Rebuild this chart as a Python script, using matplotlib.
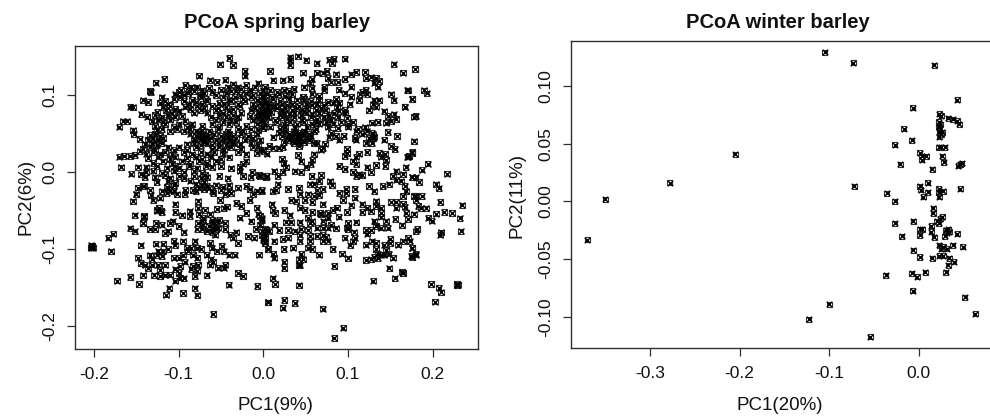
import matplotlib
matplotlib.use("Agg")
import matplotlib.pyplot as plt
import numpy as np

plt.rcParams['font.family'] = ['Liberation Sans', 'DejaVu Sans']

# Spring barley, dense upper-left body (PC1, PC2)
spring_body_left = [(-0.063,0.119),(-0.055,0.117),(-0.045,0.120),
(-0.092,0.113),(-0.085,0.110),(-0.036,0.114),(-0.030,0.110),(-0.020,0.113),(-0.006,0.115),(0.002,0.111),
(-0.097,0.107),(-0.088,0.105),(-0.078,0.110),(-0.072,0.106),(-0.064,0.109),(-0.050,0.107),(-0.042,0.110),(-0.032,0.105),(-0.026,0.108),(-0.016,0.106),(-0.010,0.110),(0.000,0.106),
(-0.104,0.101),(-0.100,0.104),(-0.094,0.100),(-0.089,0.102),(-0.082,0.105),(-0.075,0.100),(-0.070,0.103),(-0.060,0.104),(-0.056,0.100),(-0.044,0.102),(-0.038,0.105),(-0.028,0.100),(-0.020,0.103),(-0.012,0.100),(-0.004,0.103),
(-0.105,0.095),(-0.098,0.097),(-0.084,0.094),(-0.074,0.098),(-0.068,0.095),(-0.048,0.097),(-0.040,0.094),(-0.034,0.098),(-0.024,0.095),(-0.014,0.097),(-0.008,0.094),(0.000,0.098),
(-0.122,0.090),(-0.112,0.088),(-0.094,0.092),(-0.088,0.088),(-0.080,0.091),(-0.072,0.089),(-0.066,0.092),(-0.052,0.090),(-0.046,0.088),(-0.038,0.092),(-0.030,0.089),(-0.022,0.092),(-0.012,0.088),(-0.004,0.091),
(-0.118,0.084),(-0.110,0.086),(-0.104,0.082),(-0.092,0.085),(-0.086,0.082),(-0.078,0.086),(-0.070,0.083),(-0.060,0.086),(-0.054,0.083),(-0.044,0.085),(-0.036,0.082),(-0.028,0.086),(-0.010,0.083),(-0.002,0.086),
(-0.125,0.078),(-0.115,0.080),(-0.108,0.077),(-0.100,0.079),(-0.082,0.077),(-0.074,0.080),(-0.066,0.077),(-0.056,0.080),(-0.048,0.077),(-0.040,0.079),(-0.026,0.077),(-0.014,0.080),(-0.006,0.078),
(-0.137,0.072),(-0.128,0.074),(-0.120,0.071),(-0.112,0.074),(-0.104,0.071),(-0.096,0.073),(-0.062,0.071),(-0.052,0.074),(-0.044,0.071),(-0.036,0.074),(-0.030,0.071),(-0.016,0.073),(-0.008,0.071),(0.000,0.074),
(-0.132,0.066),(-0.124,0.068),(-0.118,0.065),(-0.110,0.068),(-0.092,0.066),(-0.056,0.068),(-0.048,0.065),(-0.038,0.067),(-0.032,0.065),(-0.012,0.068),(-0.004,0.065),
(-0.128,0.060),(-0.116,0.062),(-0.106,0.059),(-0.100,0.062),(-0.090,0.059),(-0.084,0.062),(-0.072,0.060),(-0.060,0.062),(-0.052,0.059),(-0.040,0.062),(-0.020,0.060),(-0.008,0.062),(0.000,0.059),
(-0.126,0.054),(-0.120,0.056),(-0.110,0.053),(-0.102,0.056),(-0.094,0.053),(-0.086,0.056),(-0.080,0.053),(-0.072,0.055),(-0.064,0.053),(-0.054,0.056),(-0.042,0.053),(-0.030,0.056),(-0.024,0.053),(-0.014,0.056),(-0.006,0.054),
(-0.134,0.048),(-0.128,0.050),(-0.122,0.047),(-0.086,0.050),(-0.080,0.047),(-0.074,0.050),(-0.068,0.047),(-0.058,0.050),(-0.050,0.047),(-0.044,0.050),(-0.036,0.047),(-0.026,0.049),(-0.018,0.047),(-0.008,0.050),
(-0.136,0.042),(-0.130,0.044),(-0.124,0.041),(-0.118,0.044),(-0.082,0.042),(-0.076,0.044),(-0.070,0.041),(-0.062,0.044),(-0.056,0.041),(-0.048,0.044),(-0.040,0.041),(-0.032,0.044),(-0.022,0.042),(-0.012,0.044),(-0.004,0.041),
(-0.075,0.052),(-0.071,0.048),(-0.067,0.045),(-0.073,0.043),(-0.069,0.039),(-0.042,0.046),(-0.038,0.043),(-0.046,0.041),(-0.040,0.050),(-0.036,0.040),
(-0.140,0.036),(-0.132,0.038),(-0.126,0.035),(-0.120,0.038),(-0.090,0.036),(-0.082,0.038),(-0.074,0.035),(-0.066,0.038),(-0.060,0.035),(-0.052,0.038),(-0.044,0.035),(-0.036,0.038),(-0.028,0.036),(-0.014,0.038),(-0.006,0.035),
(-0.142,0.030),(-0.134,0.032),(-0.128,0.029),(-0.112,0.032),(-0.106,0.029),(-0.100,0.032),(-0.090,0.029),(-0.080,0.032),(-0.060,0.030),(-0.052,0.032),(-0.046,0.029),(-0.038,0.032),(-0.026,0.030),(-0.012,0.032),(0.000,0.029),
(-0.138,0.024),(-0.130,0.026),(-0.122,0.023),(-0.116,0.026),(-0.108,0.023),(-0.094,0.026),(-0.084,0.023),(-0.074,0.026),(-0.066,0.023),(-0.058,0.026),(-0.048,0.024),(-0.030,0.026),(-0.020,0.023),(-0.008,0.025),
(-0.136,0.018),(-0.124,0.020),(-0.110,0.017),(-0.104,0.020),(-0.090,0.018),(-0.080,0.020),(-0.072,0.017),(-0.062,0.020),(-0.050,0.017),(-0.040,0.019),
(-0.130,0.012),(-0.118,0.014),(-0.108,0.011),(-0.096,0.014),(-0.086,0.011),(-0.076,0.014),(-0.066,0.012),(-0.056,0.014),(-0.024,0.011),(-0.020,0.014),
(-0.138,0.006),(-0.126,0.008),(-0.114,0.005),(-0.104,0.008),(-0.100,0.005),(-0.088,0.008),(-0.078,0.005),(-0.068,0.008),(-0.060,0.006),(-0.050,0.008),(-0.038,0.005),(-0.028,0.007),
(-0.138,0.000),(-0.130,0.002),(-0.120,-0.001),(-0.106,0.002),(-0.094,0.000),(-0.082,0.002),(-0.072,-0.001),(-0.028,0.002),(-0.013,0.000),
(-0.128,-0.007),(-0.116,-0.004),(-0.110,-0.008),(-0.100,-0.005),(-0.094,-0.008),(-0.082,-0.005),(-0.074,-0.008),(-0.069,-0.004),(-0.066,-0.007),(-0.052,-0.005),(-0.042,-0.008),(-0.024,-0.005),(-0.015,-0.007),(-0.005,-0.004),(0.003,-0.007),
(-0.126,-0.013),(-0.112,-0.011),(-0.104,-0.014),(-0.086,-0.011),(-0.070,-0.013),
(-0.114,-0.019),(-0.106,-0.017),(-0.076,-0.020),(-0.072,-0.017),(-0.064,-0.020),(-0.056,-0.017),(-0.048,-0.019),(-0.040,-0.017),(-0.030,-0.020),(-0.020,-0.018),
(-0.134,-0.023),(-0.120,-0.025),(-0.112,-0.022),(-0.106,-0.025),(-0.092,-0.023),(-0.080,-0.025),(-0.070,-0.022),(-0.060,-0.025),(-0.050,-0.023),(-0.040,-0.025),(-0.016,-0.022),(-0.008,-0.025),(-0.002,-0.023)]

# Spring barley, dense upper-right body
spring_body_right = [(0.000,0.105),(0.008,0.107),(0.016,0.104),(0.024,0.107),(0.030,0.105),(0.036,0.108),
(-0.002,0.099),(0.004,0.101),(0.010,0.098),(0.018,0.101),(0.026,0.099),(0.034,0.101),(0.047,0.098),(0.058,0.101),(0.066,0.099),
(0.002,0.093),(0.012,0.095),(0.020,0.092),(0.030,0.095),(0.040,0.093),(0.048,0.095),(0.056,0.092),(0.066,0.094),
(-0.002,0.087),(0.006,0.089),(0.014,0.086),(0.022,0.089),(0.028,0.087),(0.034,0.089),(0.042,0.086),(0.050,0.089),(0.058,0.087),(0.064,0.089),(0.072,0.087),
(0.004,0.081),(0.016,0.083),(0.022,0.080),(0.026,0.083),(0.034,0.081),(0.040,0.083),(0.046,0.080),(0.052,0.083),(0.062,0.081),(0.068,0.083),(0.074,0.080),
(-0.002,0.075),(0.006,0.077),(0.020,0.074),(0.024,0.077),(0.030,0.075),(0.036,0.077),(0.044,0.074),(0.050,0.077),(0.058,0.075),(0.066,0.077),(0.078,0.074),(0.084,0.077),
(-0.001,0.069),(0.006,0.071),(0.014,0.068),(0.022,0.071),(0.028,0.069),(0.036,0.071),(0.046,0.068),(0.056,0.071),(0.064,0.069),(0.072,0.071),(0.080,0.068),(0.088,0.071),
(0.002,0.063),(0.016,0.065),(0.024,0.062),(0.032,0.065),(0.040,0.063),(0.048,0.065),(0.058,0.062),(0.062,0.065),(0.066,0.063),(0.074,0.065),(0.082,0.062),(0.092,0.065),(0.100,0.063),(0.106,0.065),
(0.000,0.057),(0.008,0.059),(0.020,0.056),(0.026,0.059),(0.038,0.057),(0.052,0.059),(0.062,0.056),(0.076,0.059),(0.088,0.057),(0.100,0.059),(0.112,0.056),(0.120,0.058),
(0.018,0.051),(0.026,0.053),(0.030,0.050),(0.036,0.053),(0.042,0.051),(0.048,0.053),(0.054,0.050),(0.060,0.053),(0.080,0.051),(0.110,0.053),(0.116,0.050),(0.122,0.053),(0.128,0.051),
(0.012,0.045),(0.022,0.047),(0.028,0.044),(0.034,0.047),(0.040,0.045),(0.046,0.047),(0.052,0.044),(0.056,0.047),(0.078,0.045),(0.086,0.047),(0.125,0.044),(0.131,0.046),
(0.024,0.039),(0.030,0.041),(0.036,0.038),(0.042,0.041),(0.048,0.039),(0.054,0.041),(0.060,0.038),
(0.037,0.050),(0.041,0.047),(0.045,0.044),(0.033,0.045),(0.039,0.042),(0.043,0.037),(0.047,0.051),(0.035,0.040),
(0.003,0.090),(0.006,0.085),(0.001,0.081),(0.009,0.078),(0.004,0.072),(0.012,0.086),(-0.004,0.078),(-0.002,0.069)]

# Spring barley, upper-left individually readable points
spring_upper_left = [(-0.040,0.148),(-0.051,0.140),(-0.036,0.139),(-0.022,0.131),(-0.022,0.125),(-0.076,0.125),(-0.117,0.121),(-0.127,0.116),(-0.134,0.105),(-0.133,0.104),(-0.120,0.097),(-0.142,0.093),(-0.136,0.091),(-0.116,0.092),(-0.157,0.085),(-0.154,0.084),(-0.144,0.075),(-0.161,0.066),(-0.166,0.066),(-0.170,0.059),(-0.154,0.054),(-0.153,0.049),(-0.146,0.043),(-0.170,0.020),(-0.165,0.021),(-0.157,0.021),(-0.152,0.022),(-0.146,0.027),(-0.168,0.006),(-0.156,-0.002),(-0.148,0.006),(-0.145,-0.003),(-0.140,-0.007),(-0.141,-0.018),(-0.148,-0.020),(-0.150,-0.029)]

# Spring barley, upper-right individually readable points
spring_upper_right = [(0.032,0.149),(0.032,0.145),(0.041,0.150),(0.032,0.139),(0.051,0.145),(0.063,0.141),(0.078,0.146),(0.083,0.147),(0.081,0.141),(0.096,0.147),(0.154,0.140),(0.165,0.129),(0.179,0.134),(0.008,0.131),(0.047,0.129),(0.063,0.129),(0.070,0.128),(0.075,0.131),(0.086,0.127),(0.104,0.127),(0.110,0.130),(0.120,0.130),(0.121,0.122),(0.127,0.123),(0.133,0.122),(0.137,0.118),(0.131,0.116),(0.135,0.111),(0.012,0.119),(0.023,0.119),(0.032,0.121),(0.057,0.121),(0.055,0.116),(0.076,0.122),(0.080,0.117),(0.088,0.117),(0.096,0.121),(0.104,0.111),(0.057,0.109),(0.048,0.110),(0.072,0.111),(0.072,0.106),(0.089,0.107),(0.171,0.106),(0.176,0.095),(0.167,0.085),(0.180,0.073),(0.151,0.101),(0.154,0.093),(0.121,0.107),(0.117,0.104),(0.123,0.101),(0.114,0.101),(0.113,0.093),(0.096,0.102),(0.104,0.098),(0.086,0.095),(0.076,0.091),(0.082,0.090),(0.090,0.090),(0.131,0.093),(0.137,0.093),(0.129,0.088),(0.133,0.085),(0.125,0.080),(0.143,0.079),(0.147,0.073),(0.154,0.075),(0.157,0.069),(0.151,0.066),(0.145,0.064),(0.135,0.065),(0.128,0.064),(0.090,0.079),(0.096,0.081),(0.102,0.088),(0.087,0.085),(0.099,0.070),(0.097,0.077),
 (0.190,0.106),(0.193,0.102),(0.170,0.106),(0.176,0.095),(0.167,0.085),(0.178,0.072),
 (0.090,0.042),(0.095,0.047),(0.108,0.044),(0.109,0.042),(0.121,0.038),(0.130,0.049),(0.130,0.044),(0.128,0.038),(0.143,0.042),(0.147,0.052),(0.158,0.047),(0.178,0.040),(0.042,0.040),(0.042,0.034),(0.063,0.038),(0.073,0.037),(0.070,0.031),(0.068,0.029),(0.151,0.034),(0.155,0.030),(0.099,0.030),(0.099,0.025),(0.096,0.021),(0.113,0.024),(0.123,0.026),(0.110,0.020),(0.106,0.014),(0.110,0.010),(0.137,0.025),(0.144,0.024),(0.139,0.020),(0.145,0.016),(0.144,0.008),(0.176,0.026),(0.172,0.021),(0.170,0.020),(0.022,0.017),(0.024,0.012),(0.041,0.022),(0.045,0.014),(0.060,0.023),(0.058,0.016),(0.056,0.010),(0.051,0.006),(0.045,0.000),(0.037,0.001),(0.027,0.006),(0.023,0.000),(0.013,0.001),(0.017,-0.005),(0.004,-0.005),(-0.004,-0.005),(0.007,0.034),(0.012,0.031),(0.019,0.031),(0.023,0.032),(0.000,0.027),(0.004,0.024),(-0.004,0.029),(0.090,0.008),(0.096,0.004),(0.133,0.009),(0.123,0.006),(0.127,0.000),(0.113,-0.003),(0.110,-0.005),(0.106,0.000),(0.117,-0.004),(0.168,0.006),(0.157,0.001),(0.165,-0.003),(0.153,-0.005),(0.163,-0.012),(0.157,-0.010),(0.149,-0.016),(0.141,-0.018),(0.131,-0.025),(0.125,-0.018),(0.180,-0.007),(0.176,-0.007),(0.167,-0.018),(0.169,-0.025),(0.165,-0.031),(0.057,-0.005),(0.068,-0.004),(0.066,-0.012),(0.055,-0.016),(0.060,-0.016),(0.079,-0.012),(0.081,-0.017),(0.070,-0.022),(0.064,-0.023),(0.090,-0.027),(0.098,-0.022),(0.108,-0.022),(0.098,-0.027),(0.029,-0.022),(0.042,-0.020),(-0.002,-0.025),(0.011,-0.025),(0.017,-0.016),(0.015,-0.023),(0.043,-0.029),(0.053,-0.029),(0.060,-0.031),(0.066,-0.030),
 (0.217,-0.002),(0.235,-0.043),(0.209,-0.039),(0.204,-0.016),(0.207,-0.021),(0.194,0.011),(0.187,0.003),(0.184,-0.013),(0.176,-0.007),(0.180,-0.031),(0.187,-0.031),(0.176,0.025),(0.171,0.020)]

# Spring barley, lower-right points
spring_lower_right = [(0.033,-0.036),(0.039,-0.038),(0.049,-0.036),(0.058,-0.039),(0.070,-0.042),(0.094,-0.036),(0.108,-0.033),(0.104,-0.043),(0.117,-0.042),(0.123,-0.046),(0.133,-0.038),(0.133,-0.044),(0.139,-0.046),(0.151,-0.039),(0.157,-0.039),(0.165,-0.041),(0.157,-0.046),(0.167,-0.045),(0.178,-0.031),(0.180,-0.036),(0.183,-0.044),(0.010,-0.042),(0.011,-0.049),(0.014,-0.053),(0.025,-0.049),(0.031,-0.056),(0.043,-0.046),(0.049,-0.049),(0.058,-0.052),(0.067,-0.053),(0.076,-0.053),(0.087,-0.046),(0.082,-0.049),(0.099,-0.052),(0.089,-0.058),(0.117,-0.052),(0.127,-0.051),(0.139,-0.053),(0.139,-0.058),(0.145,-0.064),(0.156,-0.061),(0.169,-0.053),(0.178,-0.055),(0.171,-0.061),(0.164,-0.069),(-0.004,-0.057),(-0.002,-0.062),(0.027,-0.065),(0.033,-0.065),(0.043,-0.065),(0.053,-0.059),(0.058,-0.064),(0.068,-0.055),(0.076,-0.059),(0.071,-0.064),(0.080,-0.068),(0.100,-0.066),(0.110,-0.065),(0.131,-0.064),(0.099,-0.072),(0.013,-0.068),(0.004,-0.075),(-0.002,-0.077),(0.007,-0.077),(0.019,-0.075),(0.029,-0.075),(0.037,-0.077),(0.045,-0.074),(0.055,-0.066),(0.053,-0.075),(0.064,-0.072),(0.070,-0.072),(0.076,-0.072),(0.086,-0.073),(0.100,-0.074),(0.107,-0.078),(0.121,-0.075),(0.127,-0.075),(0.133,-0.070),(0.139,-0.072),(0.147,-0.072),(0.123,-0.080),(0.180,-0.077),(0.002,-0.085),(0.002,-0.090),(0.013,-0.090),(0.023,-0.087),(0.029,-0.085),(0.043,-0.081),(0.043,-0.090),(0.055,-0.083),(0.055,-0.090),(0.064,-0.083),(0.070,-0.081),(0.074,-0.084),(0.076,-0.090),(0.070,-0.090),(0.096,-0.085),(0.108,-0.085),(0.106,-0.090),(0.121,-0.094),(0.128,-0.090),(0.133,-0.092),(0.150,-0.087),(0.150,-0.092),(0.143,-0.094),(0.159,-0.094),(0.165,-0.090),(0.171,-0.085),(0.173,-0.090),(0.176,-0.098),(0.180,-0.107),(0.176,-0.110),(0.006,-0.100),(0.012,-0.106),(0.013,-0.111),(0.024,-0.100),(0.035,-0.098),(0.045,-0.106),(0.042,-0.113),(0.047,-0.113),(0.043,-0.120),(0.053,-0.098),(0.058,-0.100),(0.066,-0.107),(0.082,-0.100),(0.093,-0.106),(0.103,-0.095),(0.100,-0.112),(0.133,-0.100),(0.135,-0.106),(0.131,-0.110),(0.139,-0.107),(0.145,-0.101),(0.143,-0.107),(0.148,-0.106),(0.153,-0.111),(0.121,-0.114),(0.127,-0.113),(0.135,-0.112),(0.025,-0.116),(0.025,-0.125),(0.042,-0.121),(0.084,-0.122),(0.149,-0.125),(0.164,-0.129),(0.165,-0.131),(0.155,-0.138),(0.130,-0.141),(0.011,-0.138),(0.014,-0.145),(0.042,-0.147),(0.006,-0.169),(0.025,-0.166),(0.037,-0.170),(0.023,-0.176),(0.070,-0.177),(0.0945,-0.202),(0.084,-0.215),(0.198,-0.145),(0.207,-0.150),(0.210,-0.156),(0.203,-0.168),(0.229,-0.145),(0.229,-0.147),(0.230,-0.146),(0.233,-0.077),(0.232,-0.060),(0.223,-0.053),(0.210,-0.078),(0.209,-0.081),(0.214,-0.052),(0.204,-0.054),(0.199,-0.063),(0.195,-0.059),(0.192,-0.047),(0.186,-0.047),(0.182,-0.074),(0.180,-0.106),(0.176,-0.098),(0.175,-0.109)]

# Spring barley, lower-left points
spring_lower_left = [(-0.203,-0.097),(-0.202,-0.096),(-0.204,-0.098),(-0.201,-0.098),(-0.203,-0.095),(-0.177,-0.080),(-0.183,-0.085),(-0.180,-0.103),(-0.173,-0.141),(-0.157,-0.136),(-0.147,-0.145),(-0.152,-0.056),(-0.141,-0.058),(-0.157,-0.073),(-0.152,-0.077),(-0.145,-0.095),(-0.142,-0.066),(-0.134,-0.074),(-0.126,-0.049),(-0.121,-0.050),(-0.154,-0.038),(-0.150,-0.029),(-0.142,-0.018),(-0.133,-0.030),(-0.130,-0.036),(-0.122,-0.033),(-0.114,-0.027),(-0.110,-0.023),(-0.102,-0.029),(-0.093,-0.029),(-0.083,-0.023),(-0.079,-0.016),(-0.067,-0.018),(-0.059,-0.027),(-0.051,-0.036),(-0.045,-0.029),(-0.038,-0.027),(-0.032,-0.040),(-0.043,-0.045),(-0.055,-0.048),(-0.047,-0.047),(-0.026,-0.044),(-0.020,-0.053),(-0.016,-0.036),(-0.012,-0.029),(-0.008,-0.046),(-0.006,-0.055),(-0.002,-0.060),(-0.028,-0.059),(-0.014,-0.064),(-0.004,-0.068),(-0.009,-0.074),(0.002,-0.074),(-0.104,-0.042),(-0.104,-0.052),(-0.123,-0.046),(-0.120,-0.052),(-0.126,-0.050),(-0.141,-0.057),(-0.142,-0.066),(-0.127,-0.066),(-0.120,-0.068),(-0.110,-0.066),(-0.107,-0.064),(-0.112,-0.077),(-0.128,-0.074),(-0.116,-0.079),(-0.100,-0.070),(-0.094,-0.078),(-0.087,-0.051),(-0.096,-0.056),(-0.087,-0.057),(-0.077,-0.038),(-0.077,-0.046),(-0.069,-0.049),(-0.076,-0.055),(-0.071,-0.059),(-0.063,-0.055),(-0.077,-0.066),(-0.078,-0.074),(-0.071,-0.068),(-0.067,-0.077),(-0.061,-0.066),(-0.055,-0.064),(-0.059,-0.072),(-0.053,-0.072),(-0.057,-0.081),(-0.045,-0.066),(-0.045,-0.074),(-0.039,-0.081),(-0.032,-0.078),(-0.036,-0.085),(-0.030,-0.092),(-0.018,-0.083),(-0.011,-0.085),(0.000,-0.085),(0.002,-0.092),(0.005,-0.100),(-0.005,-0.107),(-0.063,-0.092),(-0.081,-0.090),(-0.061,-0.098),(-0.049,-0.096),(-0.047,-0.103),(-0.055,-0.103),(-0.040,-0.107),(-0.034,-0.107),(-0.127,-0.093),(-0.118,-0.093),(-0.106,-0.089),(-0.104,-0.095),(-0.095,-0.090),(-0.090,-0.098),(-0.085,-0.098),(-0.078,-0.098),(-0.073,-0.100),(-0.067,-0.107),(-0.095,-0.107),(-0.089,-0.103),(-0.083,-0.107),(-0.078,-0.111),(-0.093,-0.116),(-0.100,-0.111),(-0.106,-0.111),(-0.112,-0.100),(-0.118,-0.103),(-0.124,-0.103),(-0.126,-0.108),(-0.120,-0.109),(-0.134,-0.108),(-0.132,-0.113),(-0.148,-0.111),(-0.145,-0.118),(-0.140,-0.120),(-0.136,-0.125),(-0.132,-0.120),(-0.124,-0.120),(-0.116,-0.120),(-0.122,-0.127),(-0.122,-0.135),(-0.116,-0.133),(-0.110,-0.133),(-0.104,-0.126),(-0.098,-0.122),(-0.100,-0.131),(-0.098,-0.137),(-0.104,-0.141),(-0.094,-0.138),(-0.083,-0.122),(-0.077,-0.120),(-0.085,-0.126),(-0.078,-0.128),(-0.081,-0.135),(-0.129,-0.134),(-0.142,-0.134),(-0.062,-0.113),(-0.059,-0.116),(-0.063,-0.120),(-0.054,-0.124),(-0.047,-0.124),(-0.045,-0.120),(-0.067,-0.134),(-0.030,-0.131),(-0.024,-0.135),(-0.041,-0.146),(-0.007,-0.148),(0.005,-0.169),(-0.059,-0.184),(-0.111,-0.151),(-0.115,-0.159),(-0.095,-0.157),(-0.081,-0.151),(-0.078,-0.160),(-0.060,-0.062),(-0.056,-0.068),(-0.052,-0.062),(-0.064,-0.070),(-0.060,-0.078),(-0.056,-0.074),(-0.072,-0.062),(-0.072,-0.074),(-0.002,-0.082),(0.000,-0.088),(0.002,-0.080)]

# Winter barley (PC1, PC2)
winter_isolated = [(-0.350,0.002),(-0.278,0.016),(-0.205,0.041),(-0.370,-0.033),(-0.105,0.129),(-0.073,0.120),(0.017,0.118),(0.043,0.088),(-0.007,0.081),(-0.017,0.063),(-0.008,0.053),(-0.027,0.049),(-0.021,0.032),(0.015,0.028),(-0.072,0.013),(-0.036,0.007),(-0.027,0.000),(0.016,-0.006),(-0.027,-0.019),(-0.006,-0.017),(-0.019,-0.030),(0.043,-0.028),(0.049,-0.039),(-0.037,-0.064),(-0.008,-0.062),(-0.002,-0.065),(0.007,-0.061),(-0.007,-0.077),(0.051,-0.083),(0.063,-0.097),(-0.100,-0.089),(-0.123,-0.102),(-0.054,-0.117)]
winter_cluster = [(0.023,0.076),(0.025,0.074),(0.033,0.072),(0.038,0.071),(0.043,0.070),(0.045,0.067),(0.022,0.069),(0.022,0.065),(0.023,0.064),(0.024,0.067),(0.023,0.060),(0.025,0.058),(0.023,0.056),(0.026,0.060),(0.022,0.047),(0.025,0.047),(0.029,0.047),(0.001,0.042),(0.003,0.039),(0.008,0.039),(0.003,0.036),(0.026,0.039),(0.028,0.034),(0.044,0.031),(0.048,0.033),(0.046,0.032),(0.001,0.013),(0.010,0.016),(0.002,0.010),(0.005,0.004),(0.010,0.008),(0.022,0.011),(0.027,0.009),(0.023,0.004),(0.022,0.008),(0.046,0.011),(0.016,-0.010),(0.026,-0.013),(0.020,-0.017),(0.022,-0.019),(0.024,-0.015),(0.014,-0.021),(0.001,-0.024),(0.004,-0.024),(0.001,-0.029),(0.014,-0.026),(0.017,-0.031),(0.033,-0.024),(0.031,-0.027),(0.029,-0.030),(0.034,-0.026),(0.030,-0.025),(0.038,-0.038),(0.023,-0.038),(0.025,-0.041),(0.031,-0.041),(0.027,-0.039),(0.023,-0.047),(0.034,-0.049),(0.027,-0.047),(0.039,-0.052),(0.033,-0.055),(0.030,-0.061),(-0.006,-0.042),(0.001,-0.048),(0.015,-0.049)]

left_xticks = [-0.2, -0.1, 0.0, 0.1, 0.2]
left_yticks = [-0.2, -0.1, 0.0, 0.1]
left_ylabels = ['-0.2', '-0.1', '0.0', '0.1']
right_xticks = [-0.3, -0.2, -0.1, 0.0]
right_yticks = [-0.10, -0.05, 0.00, 0.05, 0.10]
right_ylabels = ['-0.10', '-0.05', '0.00', '0.05', '0.10']

W, H = 990, 416
fig = plt.figure(figsize=(W / 100, H / 100), dpi=100)
DARK = '#303030'


def make_axes(l, r, t, b, xlim, ylim):
    ax = fig.add_axes([l / W, 1 - b / H, (r - l) / W, (b - t) / H])
    ax.set_xlim(*xlim)
    ax.set_ylim(*ylim)
    for s in ax.spines.values():
        s.set_color(DARK)
        s.set_linewidth(1.0)
    ax.tick_params(axis='both', length=6, width=0.9, color=DARK, labelsize=12.5, pad=7, labelcolor='#111111')
    return ax


def draw(ax, x, y, s):
    ax.scatter(x, y, s=s, marker='s', facecolors='none', edgecolors='#333333', linewidths=0.8, clip_on=True)
    ax.scatter(x, y, s=s * 1.2, marker='x', c='black', linewidths=1.0, clip_on=True)


# Left panel
axl = make_axes(75, 478, 46, 349, (-0.2224, 0.2536), (-0.2295, 0.1636))
spring = spring_body_left + spring_body_right + spring_upper_left + spring_upper_right + spring_lower_right + spring_lower_left
draw(axl, [p[0] for p in spring], [p[1] for p in spring], 15)
axl.set_xticks(left_xticks)
axl.set_xticklabels([f'{v:.1f}' for v in left_xticks])
axl.set_yticks(left_yticks)
axl.set_yticklabels(left_ylabels, rotation=90, va='center')

# Right panel
axr = make_axes(571, 992, 41, 348, (-0.388, 0.0816), (-0.1267, 0.1388))
winter = winter_isolated + winter_cluster
draw(axr, [p[0] for p in winter], [p[1] for p in winter], 13)
axr.set_xticks(right_xticks)
axr.set_xticklabels([f'{v:.1f}' for v in right_xticks])
axr.set_yticks(right_yticks)
axr.set_yticklabels(right_ylabels, rotation=90, va='center')

# Texts
fs_label = 13.5
fig.text(277 / W, 1 - 23 / H, 'PCoA spring barley', ha='center', va='center', fontsize=14.5, fontweight='bold', color='#111111')
fig.text(778 / W, 1 - 23 / H, 'PCoA winter barley', ha='center', va='center', fontsize=14.5, fontweight='bold', color='#111111')
fig.text(275 / W, 1 - 405 / H, 'PC1(9%)', ha='center', va='center', fontsize=fs_label, color='#111111')
fig.text(780 / W, 1 - 405 / H, 'PC1(20%)', ha='center', va='center', fontsize=fs_label, color='#111111')
fig.text(26 / W, 1 - 197 / H, 'PC2(6%)', ha='center', va='center', rotation=90, fontsize=fs_label, color='#111111')
fig.text(517 / W, 1 - 195 / H, 'PC2(11%)', ha='center', va='center', rotation=90, fontsize=fs_label, color='#111111')

fig.savefig('out.png', dpi=100)
